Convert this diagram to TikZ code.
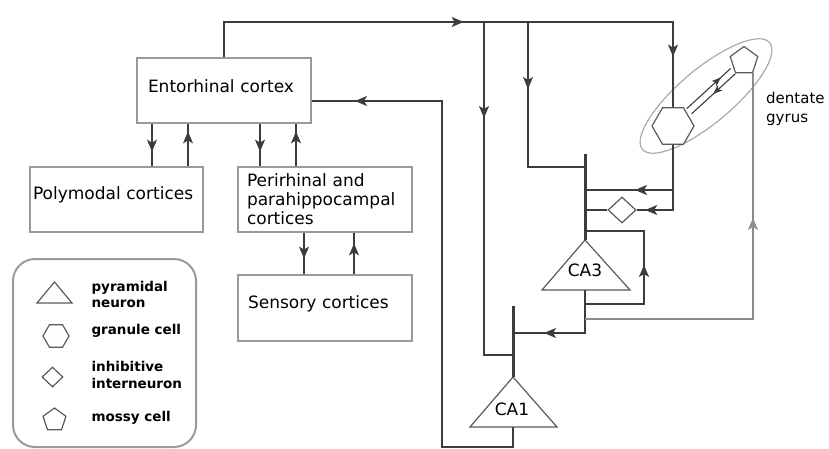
\documentclass[tikz,border=0pt]{standalone}
\usepackage{fontspec}
\setmainfont{DejaVu Sans}
\usetikzlibrary{arrows.meta,shapes.geometric,decorations.markings}
\definecolor{lncol}{HTML}{3C3C3C}
\definecolor{boxcol}{HTML}{9A9A9A}
\definecolor{shapecol}{HTML}{5A5A5A}
\definecolor{ellcol}{HTML}{AAAAAA}
\definecolor{mossycol}{HTML}{8C8C8C}
\begin{document}
\begin{tikzpicture}[x=1pt,y=-1pt,
  font=\fontsize{17}{19}\selectfont,
  ln/.style={draw=lncol, line width=1.4pt},
  tipat/.style={postaction={decorate,decoration={markings,mark=at position #1pt with {\arrow{Stealth[length=12pt,width=10pt,inset=3pt]}}}}},
  smalltip/.style={postaction={decorate,decoration={markings,mark=at position #1pt with {\arrow{Stealth[length=9pt,width=7pt,inset=2pt]}}}}},
  box/.style={draw=boxcol, line width=1.2pt, inner xsep=0pt, inner ysep=0pt, minimum height=65pt, align=left, text height=13pt},
  dend/.style={draw=lncol, line width=3pt},
  tri/.style={draw=shapecol, line width=1.2pt, fill=white},
  hexa/.style={regular polygon, regular polygon sides=6, draw=shapecol, line width=1.2pt, inner sep=0pt, fill=white},
  penta/.style={regular polygon, regular polygon sides=5, draw=shapecol, line width=1.2pt, inner sep=0pt, fill=white},
  dia/.style={diamond, draw=shapecol, line width=1.2pt, inner sep=0pt, fill=white},
  legtext/.style={anchor=west, align=left, font=\bfseries\fontsize{13.5}{16.5}\selectfont}
]
\useasboundingbox (0,0) rectangle (829,449);

% ---- cortical boxes
\node[box, minimum width=174pt, text width=152pt, text depth=9pt] (E) at (224,90.5) {Entorhinal cortex};
\node[box, minimum width=173pt, text width=167pt, text depth=14pt] (P) at (116.5,199.5) {Polymodal cortices};
\node[box, minimum width=174pt, text width=156pt] (R) at (325,199.5) {Perirhinal and\\parahippocampal\\cortices};
\node[box, minimum width=174pt, minimum height=66pt, text width=154pt, text depth=12pt] (S) at (325,308) {Sensory cortices};

% ---- arrows between boxes
\draw[ln, tipat=28] (152,0 |- E.south) -- (152,0 |- P.north);
\draw[ln, tipat=35] (188,0 |- P.north) -- (188,0 |- E.south);
\draw[ln, tipat=28] (260,0 |- E.south) -- (260,0 |- R.north);
\draw[ln, tipat=35] (296,0 |- R.north) -- (296,0 |- E.south);
\draw[ln, tipat=26] (304,0 |- R.south) -- (304,0 |- S.north);
\draw[ln, tipat=31] (354,0 |- S.north) -- (354,0 |- R.south);

% ---- dentate gyrus
\node[draw=ellcol, line width=1.2pt, ellipse, rotate=40, minimum width=166pt, minimum height=54pt] (DG) at (706,96) {};
\node[hexa, minimum size=42pt] (G) at (673,126) {};
\node[penta, minimum size=29pt] (M) at (744,61) {};
\node[anchor=west, align=left, inner xsep=1pt, font=\fontsize{15}{19}\selectfont] (DGl) at (765,108.5) {dentate\\gyrus};

% granule <-> mossy
\coordinate (gmA1) at (686.8,108.6);
\coordinate (gmA2) at (730.6,68.5);
\coordinate (gmB1) at (691.6,113.8);
\coordinate (gmB2) at (735.4,73.7);
\draw[draw=lncol, line width=1.1pt, smalltip=46] (gmA1) -- (gmA2);
\draw[draw=lncol, line width=1.1pt, smalltip=30] (gmB2) -- (gmB1);

% ---- hippocampal neurons
\coordinate (ca3top) at (585,154);
\coordinate (ca3apex) at (585,240);
\coordinate (ca3base) at (585,290);
\coordinate (ca1top) at (513,306);
\coordinate (ca1apex) at (513,377);
\coordinate (ca1base) at (513,427);
\draw[tri] (ca3apex) -- (630,290) -- (542,290) -- cycle;
\draw[tri] (ca1apex) -- (557,427) -- (470,427) -- cycle;
\node (CA3) at (585,270) {CA3};
\node (CA1) at (512,409) {CA1};
\draw[dend] (ca3top) -- (ca3apex);
\draw[dend] (ca1top) -- (ca1apex);
\node[dia, minimum width=28pt, minimum height=26pt] (D) at (622,210) {};

% ---- perforant path from entorhinal cortex
\coordinate (j1) at (484,22);
\coordinate (j2) at (528,22);
\draw[ln, tipat=275, tipat=519] (E.north) |- (673,22) -- (G.north);
\draw[ln, tipat=96] (j1) -- (484,355) -- (513,355);
\draw[ln, tipat=67] (j2) -- (528,167) -- (585,167);

% ---- mossy fibres and interneuron
\draw[ln, tipat=93] (G.south) -- (673,210) -- (D.east);
\draw[ln, tipat=38] (673,190) -- (585,190);
\draw[ln] (D.west) -- (585,210);

% ---- CA3 outputs
\draw[ln, tipat=84] (ca3base) -- (585,333) -- (513,333);
\draw[ln, tipat=98] (585,304) -- (644,304) -- (644,231) -- (585,231);
\draw[draw=mossycol, line width=1.4pt, tipat=269] (585,319) -| (M.corner 4);

% ---- CA1 output back to entorhinal cortex
\draw[ln, tipat=524] (ca1base) -- (513,447) -- (442,447) -- (442,101) -- (E.east |- 0,101);

% ---- legend
\draw[draw=boxcol, line width=2pt, rounded corners=22pt] (13,259) rectangle (196,447);
\draw[tri] (54.5,282) -- (72,303) -- (37,303) -- cycle;
\node[hexa, minimum size=26pt] (Lg) at (56,336) {};
\node[dia, minimum width=21pt, minimum height=20pt] (Ld) at (52.5,377) {};
\node[penta, minimum size=24pt] (Lp) at (54.5,420) {};
\node[legtext] (Lt1) at (88,294.5) {pyramidal\\neuron};
\node[legtext] (Lt2) at (88,331) {granule cell};
\node[legtext] (Lt3) at (88,375) {inhibitive\\interneuron};
\node[legtext] (Lt4) at (88,418) {mossy cell};
\end{tikzpicture}
\end{document}
